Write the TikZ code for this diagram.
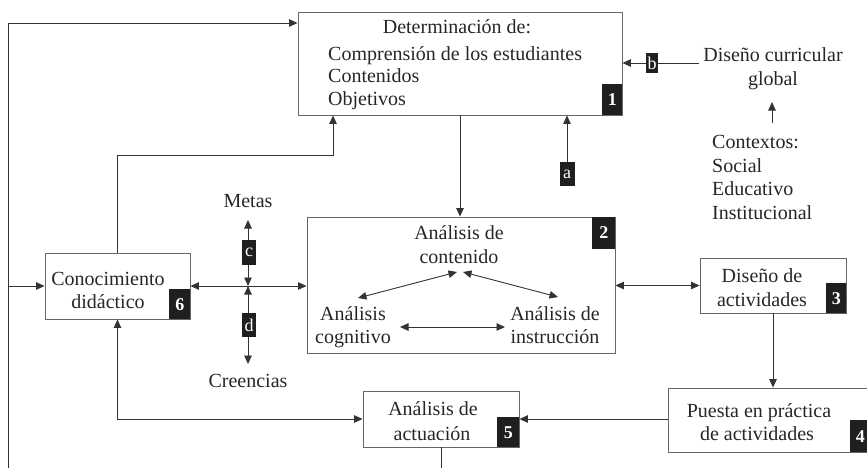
\documentclass[tikz,border=0pt]{standalone}
\usepackage{fontspec}
\setmainfont{Liberation Serif}
\usetikzlibrary{arrows.meta,calc}
\begin{document}
\begin{tikzpicture}[x=1pt,y=-1pt,
  box/.style={draw=black!60,line width=0.9pt,inner sep=0pt},
  txt/.style={inner sep=0pt,anchor=base,text=black!85,font=\fontsize{20}{23}\selectfont},
  txtl/.style={txt,anchor=base west},
  num/.style={fill=black!88,text=white,inner sep=0pt,font=\bfseries\fontsize{18}{18}\selectfont},
  tag/.style={fill=black!88,text=white,inner sep=0pt,font=\fontsize{18}{18}\selectfont},
  link/.style={draw=black!80,line width=0.9pt},
  arr/.style={link,-{Triangle[length=8.5pt,width=7.5pt]}},
  darr/.style={link,{Triangle[length=8.5pt,width=7.5pt]}-{Triangle[length=8.5pt,width=7.5pt]}}]

\useasboundingbox (0,0) rectangle (867,467);

% boxes
\node[box,minimum width=324pt,minimum height=103pt] (n1) at (460,63.5) {};
\node[box,minimum width=308pt,minimum height=136pt] (n2) at (461,285) {};
\node[box,minimum width=146pt,minimum height=55pt] (n3) at (773,285.5) {};
\node[box,minimum width=202pt,minimum height=64pt] (n4) at (769,420) {};
\node[box,minimum width=156pt,minimum height=56pt] (n5) at (441,419) {};
\node[box,minimum width=145pt,minimum height=66pt] (n6) at (117.5,286) {};

% box texts
\node[txt] (t1a) at (457,33) {Determinación de:};
\node[txtl] (t1b) at (328,60) {Comprensión de los estudiantes};
\node[txtl] (t1c) at (328,82) {Contenidos};
\node[txtl] (t1d) at (328,105) {Objetivos};

\node[txt] (t2a) at (459,239) {Análisis de};
\node[txt] (t2b) at (459,263) {contenido};
\node[txt] (t2c) at (353,320) {Análisis};
\node[txt] (t2d) at (353,343) {cognitivo};
\node[txt] (t2e) at (555,320) {Análisis de};
\node[txt] (t2f) at (555,343) {instrucción};

\node[txt] (t3a) at (762,282) {Diseño de};
\node[txt] (t3b) at (762,306) {actividades};

\node[txt] (t4a) at (759,417) {Puesta en práctica};
\node[txt] (t4b) at (757,440) {de actividades};

\node[txt] (t5a) at (433,415) {Análisis de};
\node[txt] (t5b) at (432,440) {actuación};

\node[txt] (t6a) at (108,285) {Conocimiento};
\node[txt] (t6b) at (108,308) {didáctico};

% free texts
\node[txt] (dc1) at (773,61) {Diseño curricular};
\node[txt] (dc2) at (773,85) {global};
\node[txtl] (cx1) at (712,148) {Contextos:};
\node[txtl] (cx2) at (712,172) {Social};
\node[txtl] (cx3) at (712,195) {Educativo};
\node[txtl] (cx4) at (712,219) {Institucional};
\node[txt] (met) at (248,207) {Metas};
\node[txt] (cre) at (248,387) {Creencias};

% connectors inside box 2
\draw[darr] (457,272) -- (358,298);
\draw[darr] (463,272) -- (558,297);
\draw[darr] (400,327) -- (505,327);

% connectors between boxes
\draw[arr] (n1.south) -- (n1.south |- n2.north);
\draw[darr] (n2.east |- n3.west) -- (n3.west);
\draw[arr] (n3.south) -- (n3.south |- n4.north);
\draw[arr] (n4.west |- n5.east) -- (n5.east);
\draw[darr] (n6.south) |- (n5.west);
\coordinate (k1) at (333,155);
\draw[arr] (n6.north) |- (k1) -- (k1 |- n1.south);
\draw[darr] (n6.east) -- (n6.east -| n2.west);

% feedback loop on the left
\coordinate (lb) at (8,490);
\coordinate (lt) at (8,23);
\draw[arr] (n5.south) |- (lb) -- (lt) -- (lt -| n1.west);
\draw[arr] (lt |- n6.west) -- (n6.west);

% goals and beliefs
\coordinate (xc) at (248,286);
\coordinate (mt) at (248,220);
\coordinate (cb) at (248,364);
\draw[darr] (xc) -- (mt);
\draw[darr] (xc) -- (cb);

% external inputs
\coordinate (bs) at (699,63);
\draw[arr] (bs) -- (bs -| n1.east);
\coordinate (gs) at (772,123);
\coordinate (ge) at (772,102);
\draw[arr] (gs) -- (ge);

% letter tags
\node[tag,minimum width=15pt,minimum height=24pt] (ta) at (567,174) {a};
\draw[arr] (ta.north) -- (ta.north |- n1.south);
\node[tag,minimum width=12pt,minimum height=20pt] (tb) at (652,63) {b};
\node[tag,minimum width=14pt,minimum height=25pt] (tc) at (249,252.5) {c};
\node[tag,minimum width=14pt,minimum height=24pt] (td) at (249,325) {d};

% number badges
\node[num,minimum width=20pt,minimum height=31pt,anchor=south east] (b1) at (n1.south east) {1};
\node[num,minimum width=23pt,minimum height=32pt,anchor=north east] (b2) at (n2.north east) {2};
\node[num,minimum width=20pt,minimum height=30pt,anchor=south east] (b3) at (n3.south east) {3};
\node[num,minimum width=20pt,minimum height=32pt,anchor=south east] (b4) at (n4.south east) {4};
\node[num,minimum width=22pt,minimum height=30pt,anchor=south east] (b5) at (n5.south east) {5};
\node[num,minimum width=21pt,minimum height=30pt,anchor=south east] (b6) at (n6.south east) {6};
\end{tikzpicture}
\end{document}
